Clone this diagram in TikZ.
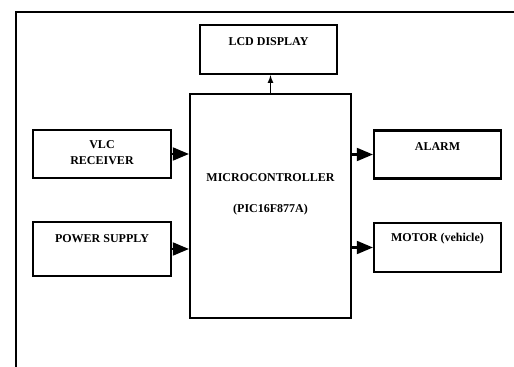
\documentclass[tikz,border=0pt]{standalone}
\usepackage{fontspec}
\setmainfont{Liberation Serif}
\usepackage{tikz}
\usetikzlibrary{arrows}

\begin{document}
\begin{tikzpicture}[x=0.75pt,y=0.75pt,yscale=-1,xscale=1,
  blk/.style={draw, line width=1.8pt, inner sep=0pt},
  lbl/.style={inner sep=0.75pt, align=center, font=\fontsize{9}{12}\selectfont\bfseries},
  lnk/.style={line width=1.8pt, -triangle 45}]
\useasboundingbox (0,0) rectangle (514,367);

%Shape: Frame
\draw [line width=1.8pt] (16,367) -- (16,12) -- (514,12) ;

%Shape: Rectangle [LCD]
\node [blk, minimum width=102.75pt, minimum height=36.75pt] (lcd) at (268.5,49.5) {};
%Shape: Rectangle [Microcontroller]
\node [blk, minimum width=120.75pt, minimum height=168pt] (mcu) at (270.5,206) {};
%Shape: Rectangle [VLC receiver]
\node [blk, minimum width=103.5pt, minimum height=36pt] (vlc) at (102,154) {};
%Shape: Rectangle [Power supply]
\node [blk, minimum width=103.5pt, minimum height=40.5pt] (pwr) at (102,249) {};
%Shape: Rectangle [Alarm]
\node [blk, minimum width=95.25pt, minimum height=36pt] (alarm) at (437.5,154.5) {};
%Shape: Rectangle [Motor]
\node [blk, minimum width=95.25pt, minimum height=36.75pt] (motor) at (437.5,247.5) {};

%Straight Lines
\draw [line width=1pt, -latex] (mcu.north) -- (mcu.north |- lcd.south) ;
\draw [lnk] (vlc.east) -- (mcu.west |- vlc.east) ;
\draw [lnk] (pwr.east) -- (mcu.west |- pwr.east) ;
\draw [lnk] (mcu.east |- alarm.west) -- (alarm.west) ;
\draw [lnk] (mcu.east |- motor.west) -- (motor.west) ;

% Text Node
\node [lbl] (lcdtxt) at (268.5,42) {LCD DISPLAY};
% Text Node
\node [lbl] (vlctxt) at (102,153) {VLC\\RECEIVER};
% Text Node
\node [lbl] (pwrtxt) at (102,239) {POWER SUPPLY};
% Text Node
\node [lbl] (alarmtxt) at (437.5,147) {ALARM};
% Text Node
\node [lbl] (motortxt) at (437.5,239) {MOTOR (vehicle)};
% Text Node
\node [lbl] (mcutxt) at (270.5,178) {MICROCONTROLLER};
% Text Node
\node [lbl] (pictxt) at (270.5,210) {(PIC16F877A)};

\end{tikzpicture}
\end{document}
